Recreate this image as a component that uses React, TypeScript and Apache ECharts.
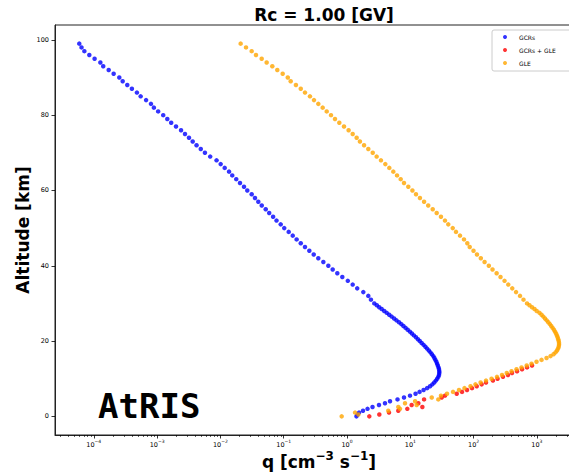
import React, { useEffect, useRef } from "react";
import * as echarts from "echarts";

// ---------- data (altitude in km, q in cm^-3 s^-1) ----------
const gcrAltitude = [
  99, 98, 97, 96, 95, 94, 93, 92, 91, 90, 89, 88, 87, 86, 85, 84, 83, 82, 81, 80,
  79, 78, 77, 76, 75, 74, 73, 72, 71, 70, 69, 68, 67, 66, 65, 64, 63, 62, 61, 60,
  59, 58, 57, 56, 55, 54, 53, 52, 51, 50, 49, 48, 47, 46, 45, 44, 43, 42, 41, 40,
  39, 38, 37, 36, 35, 34, 33, 32, 31,
  30, 29.5, 29, 28.5, 28, 27.5, 27, 26.5, 26, 25.5, 25, 24.5, 24, 23.5, 23, 22.5, 22, 21.5, 21, 20.5,
  20, 19.5, 19, 18.5, 18, 17.5, 17, 16.5, 16, 15.5, 15, 14.5, 14, 13.5, 13, 12.5, 12, 11.5, 11, 10.5,
  10, 9.5, 9, 8.5, 8, 7.5, 7, 6.5, 6, 5.5, 5, 4.5, 4, 3.5, 3, 2.5, 2, 1.5, 1, 0.5, 0,
];
const gcrQ = [
  5.9e-5, 6.4e-5, 7.1e-5, 8.5e-5, 1.03e-4, 1.27e-4, 1.41e-4, 1.72e-4, 2.06e-4, 2.53e-4,
  2.86e-4, 3.38e-4, 4.0e-4, 4.8e-4, 5.5e-4, 6.7e-4, 8.0e-4, 8.9e-4, 1.04e-3, 1.25e-3,
  1.45e-3, 1.67e-3, 1.99e-3, 2.39e-3, 2.76e-3, 3.19e-3, 3.65e-3, 4.2e-3, 4.9e-3, 5.7e-3,
  6.9e-3, 8.7e-3, 1.01e-2, 1.17e-2, 1.37e-2, 1.54e-2, 1.78e-2, 2.04e-2, 2.36e-2, 2.66e-2,
  3.12e-2, 3.52e-2, 3.97e-2, 4.5e-2, 5.2e-2, 5.9e-2, 6.8e-2, 7.7e-2, 8.97e-2, 0.102,
  0.12, 0.139, 0.16, 0.186, 0.217, 0.254, 0.298, 0.352, 0.423, 0.507,
  0.594, 0.703, 0.843, 1.03, 1.23, 1.45, 1.81, 2.17, 2.39,
  2.7, 2.96, 3.23, 3.53, 3.87, 4.24, 4.64, 5.07, 5.55, 6.05, 6.63, 7.21, 7.78, 8.43, 9.1, 9.86, 10.6, 11.4, 12.3, 13.2,
  14.1, 15.1, 16.2, 17.3, 18.4, 19.6, 20.8, 21.9, 23.1, 24.0, 24.9, 25.8, 26.5, 27.2, 27.9, 28.4, 28.7, 28.7, 28.4, 27.7,
  26.6, 25.3, 23.9, 22.3, 20.5, 18.4, 16.2, 14.0, 12.1, 9.89, 7.95, 6.28, 4.78, 3.98, 3.2, 2.53, 2.11, 1.79, 1.55, 1.47, 1.41,
];

const bothAltitude = [
  0, 0.5, 1, 1.5, 2, 2.5, 3, 3.5, 4.5, 5, 5.5, 6, 6.5, 7, 7.5, 8, 8.5, 9, 9.5, 10, 10.5, 11, 11.5, 12, 12.5, 13, 13.5,
];
const bothQ = [
  2.25, 3.24, 4.61, 6.46, 8.97, 15.5, 10.5, 13.4, 16.5, 31.3, 35.3, 54.1, 65.6, 78.7, 94.3, 112, 134, 157, 202, 239,
  291, 349, 404, 485, 582, 698, 837,
];

const gleAltitude = [
  99, 98, 97, 96, 95, 94, 93, 92, 91, 90, 89, 88, 87, 86, 85, 84, 83, 82, 81, 80,
  79, 78, 77, 76, 75, 74, 73, 72, 71, 70, 69, 68, 67, 66, 65, 64, 63, 62, 61, 60,
  59, 58, 57, 56, 55, 54, 53, 52, 51, 50, 49, 48, 47, 46, 45, 44, 43, 42, 41, 40,
  39, 38, 37, 36, 35, 34, 33, 32, 31,
  30, 29.5, 29, 28.5, 28, 27.5, 27, 26.5, 26, 25.5, 25, 24.5, 24, 23.5, 23, 22.5, 22, 21.5, 21, 20.5,
  20, 19.5, 19, 18.5, 18, 17.5, 17, 16.5, 16, 15.5, 15, 14.5, 14, 13.5, 13, 12.5, 12, 11.5, 11, 10.5,
  10, 9.5, 9, 8.5, 8, 7.5, 7, 6.5, 6, 5.5, 5, 4.5, 4, 3.5, 3, 2.5, 2, 1.5, 1, 0.5, 0,
];
const gleQ = [
  0.0209, 0.0254, 0.0312, 0.0365, 0.0449, 0.0538, 0.0661, 0.0792, 0.0964, 0.116,
  0.129, 0.156, 0.186, 0.217, 0.26, 0.301, 0.352, 0.413, 0.478, 0.559,
  0.646, 0.756, 0.897, 1.06, 1.23, 1.42, 1.6, 1.86, 2.17, 2.55,
  2.94, 3.44, 4.03, 4.66, 5.39, 6.17, 7.05, 7.95, 9.3, 10.8,
  12.3, 14.2, 16.5, 19.2, 22.6, 26.1, 30.5, 35.3, 39.8, 46.8,
  52.7, 61.0, 70.5, 79.5, 86.8, 99.6, 113, 130, 149, 174,
  199, 231, 266, 308, 353, 408, 468, 541, 614,
  698, 764, 837, 916, 993, 1099, 1182, 1262, 1342, 1428, 1513, 1599, 1683, 1771, 1857, 1932, 2004, 2070, 2124, 2170,
  2209, 2234, 2234, 2209, 2155, 2078, 1968, 1829, 1641, 1419, 1183, 986, 822, 690, 571, 476, 397, 334, 281, 234,
  192, 157, 129, 107, 89.3, 71.8, 58.8, 47.3, 38.0, 30.5, 21.8, 27.7, 11.9, 8.25, 12.6, 6.46, 6.88, 4.49, 1.34, 1.51, 0.824,
];

const yTicks = [0, 20, 40, 60, 80, 100];
const xMajorTicks = [1e-4, 1e-3, 1e-2, 1e-1, 1, 10, 100, 1000];
const xMinorTicks = [
  3e-5, 4e-5, 5e-5, 6e-5, 7e-5, 8e-5, 9e-5,
  2e-4, 3e-4, 4e-4, 5e-4, 6e-4, 7e-4, 8e-4, 9e-4,
  2e-3, 3e-3, 4e-3, 5e-3, 6e-3, 7e-3, 8e-3, 9e-3,
  2e-2, 3e-2, 4e-2, 5e-2, 6e-2, 7e-2, 8e-2, 9e-2,
  0.2, 0.3, 0.4, 0.5, 0.6, 0.7, 0.8, 0.9,
  2, 3, 4, 5, 6, 7, 8, 9,
  20, 30, 40, 50, 60, 70, 80, 90,
  200, 300, 400, 500, 600, 700, 800, 900,
  2000, 3000, 4000, 5000,
];

const seriesNames = ["GCRs", "GCRs + GLE", "GLE"];
const seriesColors = ["#0000ff", "#ff0000", "#ffa500"];

const FONT = "DejaVu Sans";
const X_MIN = 2.44e-5;
const X_MAX = 5346;

export default function App() {
  const ref = useRef<HTMLDivElement>(null);

  useEffect(() => {
    if (!ref.current) return;
    const chart = echarts.init(ref.current, null, { renderer: "svg" });

    const pairs = (alt: number[], q: number[]) => alt.map((a, i) => [q[i], a]);

    const supFormatter = (v: number) => {
      const e = Math.round(Math.log10(v));
      const s = e < 0 ? "\u2212" + -e : String(e);
      return `{b|10}{s|${s}}`;
    };

    chart.setOption({
      animation: false,
      backgroundColor: "#ffffff",
      title: {
        text: "Rc = 1.00 [GV]",
        left: 319,
        top: 1,
        textAlign: "center",
        textStyle: { fontFamily: FONT, fontWeight: "bold", fontSize: 17, color: "#000" },
      },
      legend: {
        data: seriesNames,
        orient: "vertical",
        left: 492,
        top: 30,
        padding: [3, 40, 4, 11],
        backgroundColor: "#ffffff",
        borderColor: "#cccccc",
        borderWidth: 1,
        borderRadius: 2,
        icon: "circle",
        itemWidth: 4,
        itemHeight: 4,
        itemGap: 5,
        textStyle: { fontFamily: FONT, fontSize: 6, color: "#000", lineHeight: 8, padding: [0, 0, 0, 7] },
      },
      grid: {
        left: 55,
        top: 25,
        right: -14,
        bottom: 39,
        containLabel: false,
        outerBoundsMode: "none",
        show: true,
        borderColor: "#222",
        borderWidth: 1,
        backgroundColor: "transparent",
      },
      xAxis: [
        {
          type: "log",
          logBase: 10,
          min: X_MIN,
          max: X_MAX,
          position: "bottom",
          name: "{t|q [cm}{s|\u22123}{t| s}{s|\u22121}{t|]}",
          nameLocation: "middle",
          nameGap: 15,
          nameMoveOverlap: false,
          nameTextStyle: {
            rich: {
              t: { fontFamily: FONT, fontWeight: "bold", fontSize: 17, color: "#000", lineHeight: 20, verticalAlign: "bottom" },
              s: { fontFamily: FONT, fontWeight: "bold", fontSize: 12, color: "#000", lineHeight: 20, verticalAlign: "top" },
            },
          },
          axisLine: { show: true, onZero: false, lineStyle: { color: "#222", width: 1 } },
          axisTick: { show: true, inside: false, length: 3.5, lineStyle: { color: "#000", width: 0.8 }, customValues: xMajorTicks },
          axisLabel: {
            show: true,
            margin: 4,
            customValues: xMajorTicks,
            formatter: supFormatter,
            rich: {
              b: { fontFamily: FONT, fontSize: 6.5, color: "#000", lineHeight: 9, verticalAlign: "bottom" },
              s: { fontFamily: FONT, fontSize: 4.5, color: "#000", lineHeight: 9, verticalAlign: "top" },
            },
          },
          splitLine: { show: false },
          minorTick: { show: false },
        },
        {
          type: "log",
          logBase: 10,
          min: X_MIN,
          max: X_MAX,
          position: "bottom",
          axisLine: { show: false, onZero: false },
          axisTick: { show: true, inside: false, length: 2, lineStyle: { color: "#000", width: 0.6 }, customValues: xMinorTicks },
          axisLabel: { show: false },
          splitLine: { show: false },
        },
      ],
      yAxis: {
        type: "value",
        min: -4.95,
        max: 103.95,
        name: "Altitude [km]",
        nameLocation: "middle",
        nameGap: 24,
        nameMoveOverlap: false,
        nameTextStyle: { fontFamily: FONT, fontWeight: "bold", fontSize: 17, color: "#000" },
        axisLine: { show: true, onZero: false, lineStyle: { color: "#222", width: 1 } },
        axisTick: { show: true, inside: false, length: 3.5, lineStyle: { color: "#000", width: 0.8 }, customValues: yTicks },
        axisLabel: { show: true, margin: 6, customValues: yTicks, fontFamily: FONT, fontSize: 6.5, color: "#000" },
        splitLine: { show: false },
      },
      graphic: [
        {
          type: "text",
          left: 98,
          top: 389,
          style: { text: "AtRIS", fontFamily: "DejaVu Sans Mono", fontWeight: "bold", fontSize: 34, fill: "#000" },
          z: 10,
        },
      ],
      series: [
        {
          name: seriesNames[0],
          type: "scatter",
          xAxisIndex: 0,
          symbolSize: 4.5,
          itemStyle: { color: seriesColors[0] },
          data: pairs(gcrAltitude, gcrQ),
        },
        {
          name: seriesNames[1],
          type: "scatter",
          xAxisIndex: 0,
          symbolSize: 4.5,
          itemStyle: { color: seriesColors[1] },
          data: pairs(bothAltitude, bothQ),
        },
        {
          name: seriesNames[2],
          type: "scatter",
          xAxisIndex: 0,
          symbolSize: 4.5,
          itemStyle: { color: seriesColors[2] },
          data: pairs(gleAltitude, gleQ),
        },
      ],
    });

    return () => chart.dispose();
  }, []);

  return (
    <div
      ref={ref}
      style={{ position: "fixed", left: 0, top: 0, width: 569, height: 474, background: "#fff" }}
    />
  );
}
